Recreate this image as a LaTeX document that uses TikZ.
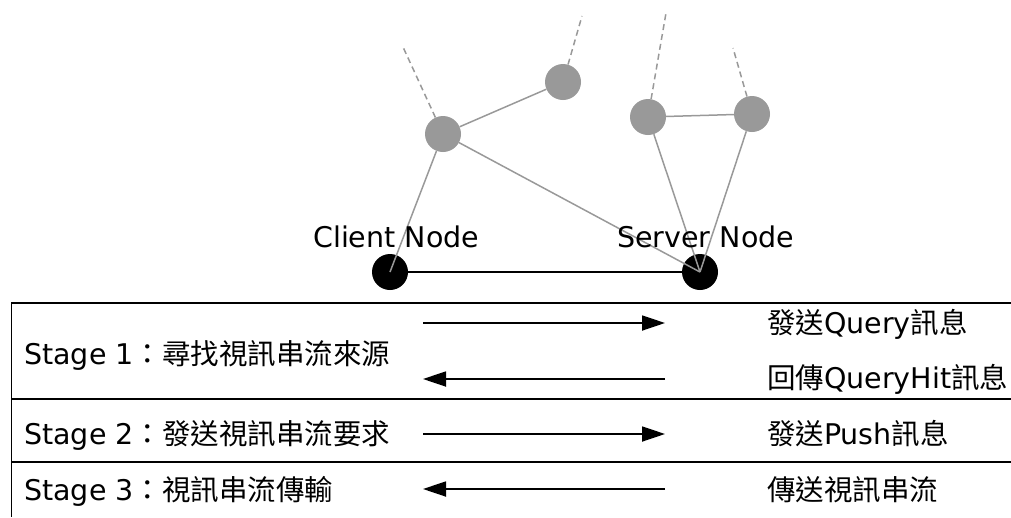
\documentclass[tikz,border=0pt]{standalone}
\usepackage{fontspec}
\setmainfont{DejaVu Sans}
\newfontfamily\cjk{Noto Sans CJK TC}
\usetikzlibrary{arrows.meta}
\tikzset{
  peer/.style={circle, fill=black!40, minimum size=36pt, inner sep=0pt},
  endpoint/.style={circle, fill=black, minimum size=36pt, inner sep=0pt},
  link/.style={draw=black!40, line width=1.5pt},
  farlink/.style={draw=black!40, line width=1.5pt, dash pattern=on 6pt off 4pt},
  label/.style={anchor=base west, inner sep=0pt, font=\fontsize{28.5}{34}\selectfont},
  rule/.style={draw=black, line width=1.8pt},
  msg/.style={draw=black, line width=1.8pt, -{Triangle[length=23pt, width=15pt]}}
}
\begin{document}
\begin{tikzpicture}[x=1pt, y=-1pt]
\useasboundingbox (0,0) rectangle (1011,517);

% overlay network
\node[peer] (a) at (443,134) {};
\node[peer] (b) at (563,82) {};
\node[peer] (c) at (648,117) {};
\node[peer] (d) at (752,114) {};
\node[endpoint] (client) at (390,272) {};
\node[endpoint] (server) at (700,272) {};

\coordinate (fa) at (403,47);
\coordinate (fb) at (582,16);
\coordinate (fc) at (666,13);
\coordinate (fd) at (733,48);
\draw[farlink] (a) -- (fa);
\draw[farlink] (b) -- (fb);
\draw[farlink] (c) -- (fc);
\draw[farlink] (d) -- (fd);

\draw[link] (a) -- (b);
\draw[link] (c) -- (d);
\draw[draw=black, line width=1.8pt] (client) -- (server);
\draw[link] (a) -- (client.center);
\draw[link] (a) -- (server.center);
\draw[link] (c) -- (server.center);
\draw[link] (d) -- (server.center);

\node[label] (clab) at (313,247) {Client Node};
\node[label] (slab) at (617,247) {Server Node};

% stage table
\coordinate (tl) at (11.5,303);
\coordinate (tr) at (1011,303);
\coordinate (m1l) at (11.5,399);
\coordinate (m1r) at (1011,399);
\coordinate (m2l) at (11.5,462);
\coordinate (m2r) at (1011,462);
\coordinate (bl) at (11.5,517);
\draw[rule] (tr) -- (tl) -- (bl);
\draw[rule] (m1l) -- (m1r);
\draw[rule] (m2l) -- (m2r);

\node[label] (s1) at (24,364) {Stage 1{\cjk ：尋找視訊串流來源}};
\node[label] (s2) at (24,444) {Stage 2{\cjk ：發送視訊串流要求}};
\node[label] (s3) at (24,500) {Stage 3{\cjk ：視訊串流傳輸}};

% messages between client and server
\coordinate (q1) at (423,323);  \coordinate (q2) at (665,323);
\coordinate (h1) at (665,379);  \coordinate (h2) at (423,379);
\coordinate (p1) at (423,434);  \coordinate (p2) at (665,434);
\coordinate (v1) at (665,489);  \coordinate (v2) at (423,489);
\draw[msg] (q1) -- (q2);
\draw[msg] (h1) -- (h2);
\draw[msg] (p1) -- (p2);
\draw[msg] (v1) -- (v2);

\node[label] (m1) at (767,333) {{\cjk 發送}Query{\cjk 訊息}};
\node[label] (m2) at (767,388) {{\cjk 回傳}QueryHit{\cjk 訊息}};
\node[label] (m3) at (767,444) {{\cjk 發送}Push{\cjk 訊息}};
\node[label] (m4) at (767,500) {{\cjk 傳送視訊串流}};
\end{tikzpicture}
\end{document}
